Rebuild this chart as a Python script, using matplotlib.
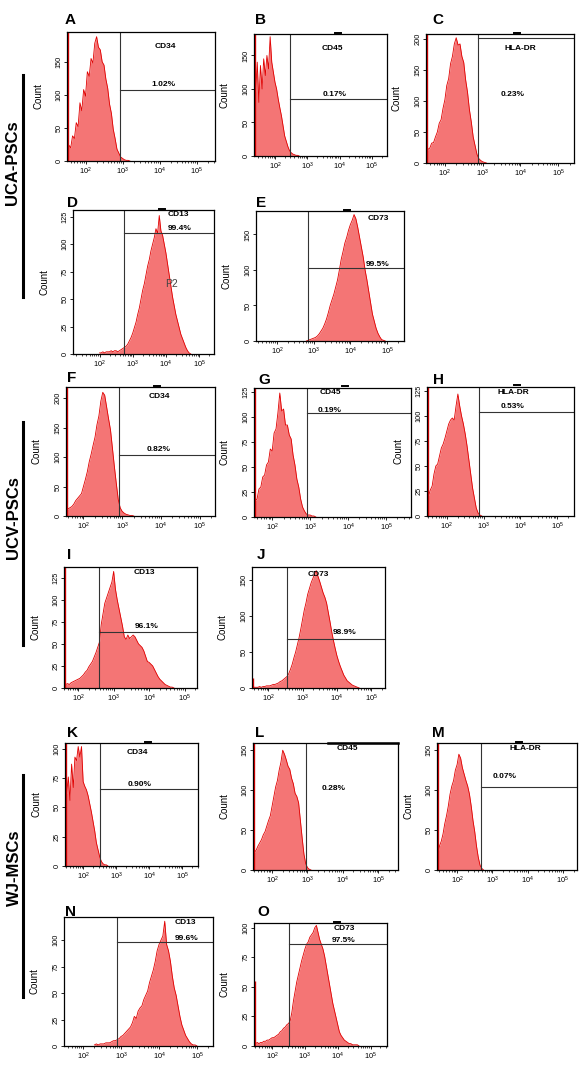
import numpy as np
import matplotlib.pyplot as plt
from matplotlib.lines import Line2D
from matplotlib.ticker import NullFormatter, LogLocator

plt.rcParams['font.family'] = ['Liberation Sans', 'DejaVu Sans']
plt.rcParams['mathtext.fontset'] = 'custom'
plt.rcParams['mathtext.rm'] = 'Liberation Sans'

W, H = 580, 1073
STEP = 0.05  # channel width, log10 units

letters = list("ABCDEFGHIJKLMNO")
markers = ["CD34", "CD45", "HLA-DR", "CD13", "CD73",
           "CD34", "CD45", "HLA-DR", "CD13", "CD73",
           "CD34", "CD45", "HLA-DR", "CD13", "CD73"]
percents = ["1.02%", "0.17%", "0.23%", "99.4%", "99.5%",
            "0.82%", "0.19%", "0.53%", "96.1%", "98.9%",
            "0.90%", "0.28%", "0.07%", "99.6%", "97.5%"]
groups = ["UCA-PSCs", "UCV-PSCs", "WJ-MSCs"]

# histogram counts; first channel sits at *_lo (log10 fluorescence)
a_lo = 1.50
a_counts = [15, 24, 20, 38, 34, 58, 52, 88, 76, 108, 98, 135, 128, 155, 148, 178, 188, 172,
            168, 150, 145, 124, 110, 86, 72, 48, 34, 18, 12, 6, 4, 2, 1, 1, 0]
b_lo = 1.35
b_counts = [130, 95, 140, 80, 135, 100, 145, 120, 150, 130, 178, 140, 125, 110, 100, 85,
            72, 60, 45, 30, 22, 14, 8, 5, 3, 2, 1, 1, 0]
c_lo = 1.50
c_counts = [15, 22, 24, 32, 33, 42, 50, 64, 70, 88, 102, 125, 136, 160, 172, 192, 202, 190,
            192, 172, 162, 134, 114, 86, 66, 42, 28, 14, 7, 4, 2, 1, 0]
d_lo = 2.00
d_counts = [1, 1, 2, 1, 2, 2, 2, 3, 2, 3, 3, 2, 3, 4, 5, 6, 7, 9, 12, 15, 19, 24, 29, 36,
            42, 50, 58, 64, 72, 80, 86, 94, 100, 106, 114, 110, 126, 112, 108, 100, 92, 82,
            72, 62, 52, 44, 36, 30, 24, 18, 14, 10, 6, 3, 1, 0]
e_lo = 2.80
e_counts = [0, 1, 2, 3, 4, 5, 7, 10, 14, 18, 24, 31, 40, 50, 58, 66, 76, 86, 100, 115, 126,
            138, 146, 156, 164, 170, 178, 172, 160, 146, 132, 118, 100, 86, 70, 54, 38, 28,
            18, 11, 6, 2, 1, 0]
f_lo = 1.55
f_counts = [8, 12, 14, 16, 20, 26, 30, 34, 38, 50, 62, 75, 92, 105, 120, 134, 155, 170, 195,
            210, 205, 185, 165, 146, 115, 84, 55, 28, 14, 8, 5, 3, 2, 1, 1, 0]
g_lo = 1.50
g_counts = [12, 16, 18, 28, 30, 40, 42, 52, 55, 68, 66, 84, 88, 104, 124, 106, 108, 92, 92,
            82, 78, 62, 52, 38, 30, 18, 10, 6, 3, 2, 2, 1, 1, 0]
h_lo = 1.45
h_counts = [15, 20, 26, 30, 42, 50, 52, 60, 68, 72, 78, 85, 92, 96, 98, 96, 110, 122, 110,
            100, 92, 82, 70, 56, 42, 28, 18, 8, 3, 1, 0]
i_lo = 1.60
i_counts = [3, 4, 5, 4, 6, 7, 8, 9, 10, 11, 13, 15, 18, 20, 24, 27, 30, 35, 40, 46, 52, 72,
            84, 96, 102, 108, 114, 120, 132, 112, 100, 90, 80, 70, 58, 55, 60, 56, 58, 60,
            58, 54, 50, 48, 46, 42, 36, 30, 29, 27, 25, 21, 17, 13, 10, 8, 6, 4, 3, 2, 1, 1, 0]
j_lo = 1.55
j_counts = [2, 1, 1, 1, 2, 1, 2, 2, 3, 3, 3, 4, 5, 5, 6, 7, 9, 10, 12, 14, 16, 20, 26, 33,
            42, 50, 60, 70, 82, 95, 108, 118, 130, 138, 146, 152, 158, 163, 155, 148, 140,
            132, 126, 118, 105, 92, 78, 66, 55, 45, 37, 30, 24, 18, 14, 10, 8, 6, 4, 3, 2, 1, 0]
k_lo = 1.45
k_counts = [60, 62, 76, 56, 87, 67, 93, 90, 102, 93, 102, 72, 68, 65, 60, 53, 46, 38, 30,
            20, 14, 8, 4, 2, 1, 1, 0]
l_lo = 1.50
l_counts = [22, 25, 30, 34, 38, 44, 48, 55, 62, 68, 80, 92, 104, 112, 125, 135, 150, 145,
            138, 130, 126, 115, 108, 96, 92, 84, 62, 40, 20, 8, 3, 1, 0]
m_lo = 1.45
m_counts = [20, 30, 36, 45, 58, 68, 80, 95, 105, 112, 125, 132, 145, 140, 128, 120, 112, 105,
            95, 80, 62, 48, 30, 16, 6, 2, 0]
n_lo = 2.30
n_counts = [1, 2, 1, 2, 2, 2, 3, 3, 3, 4, 5, 5, 6, 7, 9, 10, 12, 14, 16, 18, 22, 28, 26, 33,
            36, 38, 44, 48, 52, 60, 66, 72, 80, 90, 96, 100, 104, 118, 96, 90, 80, 66, 55,
            48, 38, 28, 20, 15, 10, 7, 4, 2, 1, 1, 0]
o_lo = 1.50
o_counts = [2, 3, 2, 3, 3, 4, 4, 5, 5, 6, 7, 7, 8, 9, 10, 12, 13, 15, 16, 18, 19, 21, 28, 38,
            46, 54, 60, 66, 72, 77, 82, 86, 88, 92, 94, 96, 100, 102, 96, 90, 86, 82, 76,
            68, 60, 52, 44, 36, 30, 24, 18, 12, 9, 7, 5, 4, 3, 2, 2, 1, 1, 1, 1, 0]

hist_data = [(a_lo, a_counts), (b_lo, b_counts), (c_lo, c_counts), (d_lo, d_counts),
             (e_lo, e_counts), (f_lo, f_counts), (g_lo, g_counts), (h_lo, h_counts),
             (i_lo, i_counts), (j_lo, j_counts), (k_lo, k_counts), (l_lo, l_counts),
             (m_lo, m_counts), (n_lo, n_counts), (o_lo, o_counts)]

# events piled up at the lower axis limit
edge_counts = [999, 999, 999, 0, 0, 999, 999, 999, 999, 14, 999, 999, 999, 0, 55]
# gate (log10) and marker level (count)
gate_lg = [2.93, 2.47, 2.88, 2.74, 2.85, 2.92, 2.92, 2.87, 2.60, 2.55,
           2.51, 2.96, 2.68, 2.89, 2.51]
gate_level = [107, 85, 201, 110, 103, 103, 104, 104, 63, 68, 66, None, 104, 98, 86]

# ---- layout (pixels) ----
rects = [(67, 32, 215, 161), (254, 34, 387, 156), (426, 34, 574, 163),
         (73, 210, 214, 354), (256, 211, 404, 341),
         (66, 387, 215, 516), (254, 388, 411, 517), (427, 387, 574, 516),
         (64, 567, 197, 688), (252, 567, 385, 688),
         (65, 743, 198, 866), (253, 743, 398, 870), (437, 743, 577, 870),
         (64, 917, 213, 1046), (254, 923, 387, 1046)]
xlims = [(1.5, 5.5), (1.35, 5.47), (1.5, 5.42), (1.2, 5.45), (1.43, 5.46),
         (1.55, 5.4), (1.52, 5.66), (1.46, 5.46), (1.6, 5.35), (1.53, 5.4),
         (1.45, 5.48), (1.46, 5.56), (1.43, 5.4), (1.5, 5.42), (1.45, 5.5)]
ymaxes = [195, 182, 208, 131, 183, 219, 129, 129, 137, 168, 105, 159, 159, 122, 104]
ysteps = [50, 50, 50, 25, 50, 50, 25, 25, 25, 50, 25, 50, 50, 25, 25]
marker_xy = [(165, 47), (332, 48), (520, 48), (178, 215), (378, 219),
             (159, 397), (330, 393), (513, 392), (144, 573), (318, 574),
             (137, 753), (347, 749), (525, 749), (185, 923), (344, 929)]
pct_xy = [(163, 85), (335, 95), (513, 95), (180, 228), (378, 264),
          (159, 450), (330, 410), (513, 407), (147, 627), (345, 632),
          (140, 784), (334, 788), (505, 777), (187, 938), (344, 941)]
letter_xy = [(65, 20), (255, 20), (432, 20), (67, 203), (256, 203),
             (67, 378), (258, 380), (433, 380), (67, 555), (257, 555),
             (67, 733), (255, 733), (432, 733), (65, 912), (257, 912)]
dash_px = [(338, 33), (517, 33), (162, 209), (347, 210), (157, 386), (345, 386),
           (517, 385), (148, 742), (519, 742), (337, 922)]
group_xy = [(13, 163), (14, 518), (14, 868)]
bars = [(75, 297), (422, 645), (775, 997)]

FILL = '#f47575'
LINE = '#e00000'
GATE = '#333333'


def fx(x):
    return x / W


def fy(y):
    return 1 - y / H


fig = plt.figure(figsize=(W / 100, H / 100), dpi=100)

for i in range(15):
    l, t, r, b = rects[i]
    ax = fig.add_axes([fx(l), fy(b), (r - l) / W, (b - t) / H])
    lo, counts = hist_data[i]
    lg = lo + STEP * np.arange(len(counts))
    x = 10 ** lg
    ax.fill_between(x, counts, color=FILL, lw=0)
    ax.plot(x, counts, color=LINE, lw=0.6)
    xlo, xhi = xlims[i]
    if edge_counts[i]:
        ax.vlines(10 ** xlo, 0, edge_counts[i], color=LINE, lw=2.4)
    ax.set_xscale('log')
    ax.set_xlim(10 ** xlo, 10 ** xhi)
    ax.set_ylim(0, ymaxes[i])

    ax.axvline(10 ** gate_lg[i], color=GATE, lw=0.8)
    if gate_level[i] is not None:
        ax.plot([10 ** gate_lg[i], 10 ** xhi], [gate_level[i]] * 2, color=GATE, lw=0.8)

    ax.xaxis.set_major_locator(LogLocator(base=10))
    ax.xaxis.set_minor_locator(LogLocator(base=10, subs=np.arange(2, 10)))
    ax.xaxis.set_minor_formatter(NullFormatter())
    ax.set_yticks(np.arange(0, ymaxes[i], ysteps[i]))
    ax.tick_params(axis='both', which='major', direction='out', length=2.2, width=0.6,
                   labelsize=5.3, pad=1)
    ax.tick_params(axis='x', which='minor', direction='out', length=1.3, width=0.5)
    for lab in ax.get_yticklabels():
        lab.set_rotation(90)
        lab.set_va('center')
    for sp in ax.spines.values():
        sp.set_linewidth(0.9)

    ax.set_ylabel("Count", fontsize=7, labelpad=0)
    ax.yaxis.set_label_coords(-24 / (r - l), 0.5)

    fig.text(fx(marker_xy[i][0]), fy(marker_xy[i][1]), markers[i], fontsize=6,
             fontweight='bold', ha='center', va='center')
    fig.text(fx(pct_xy[i][0]), fy(pct_xy[i][1]), percents[i], fontsize=6,
             fontweight='bold', ha='center', va='center')
    fig.text(fx(letter_xy[i][0]), fy(letter_xy[i][1]), letters[i], fontsize=11,
             fontweight='bold', ha='left', va='center')

# "P2" gate name in panel D
fig.text(fx(171), fy(284), "P2", fontsize=7.5, color='#444444', ha='center', va='center')

# small gate handles on the frame tops
for (dx, dy) in dash_px:
    fig.add_artist(Line2D([fx(dx - 3), fx(dx + 3)], [fy(dy), fy(dy)], color='black', lw=1.4))
fig.add_artist(Line2D([fx(328), fx(398)], [fy(743), fy(743)], color='black', lw=1.8))

# group labels and bars
for (gx, gy), name, (b0, b1) in zip(group_xy, groups, bars):
    fig.text(fx(gx), fy(gy), name, fontsize=12, fontweight='bold', rotation=90,
             ha='center', va='center')
    fig.add_artist(Line2D([fx(23), fx(23)], [fy(b0), fy(b1)], color='black', lw=2.2))

fig.savefig("out.png", dpi=100)
